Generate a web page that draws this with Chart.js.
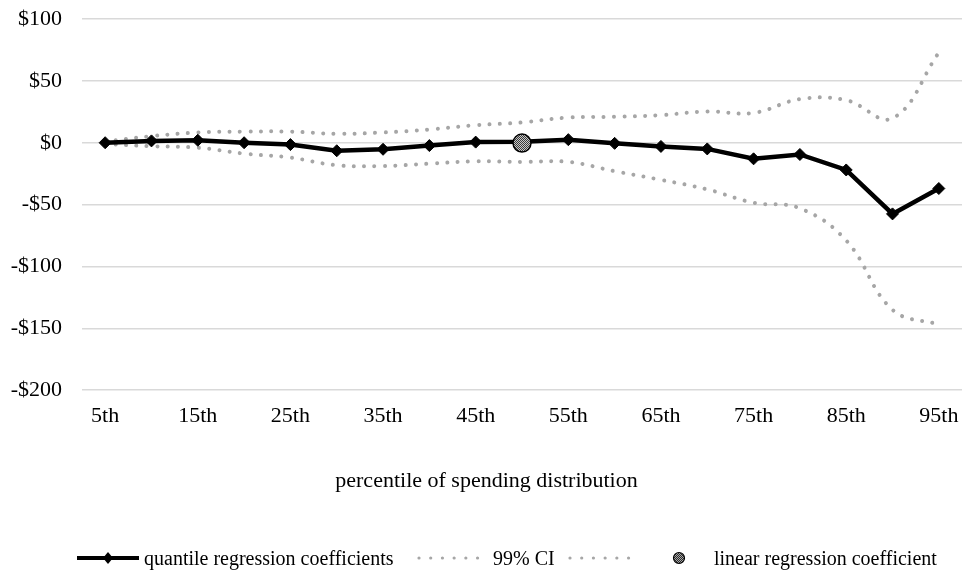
<!DOCTYPE html>
<html>
<head>
<meta charset="utf-8">
<script src="https://cdn.jsdelivr.net/npm/chart.js@4.4.1/dist/chart.umd.min.js"></script>
<style>
  body { margin: 0; background: #fff; overflow: hidden; }
  #wrap { position: relative; width: 968px; height: 572px; }
  #chart { display: block; }
  #legend { position: absolute; left: 0; top: 546px; width: 968px; height: 24px;
            font-family: "Liberation Serif", "Times New Roman", serif; font-size: 20px; color: #000; }
  #legend .item { position: absolute; top: 0; height: 24px; line-height: 24px; white-space: nowrap; }
  #legend svg { position: absolute; top: 0; }
</style>
</head>
<body>
<div id="wrap">
  <canvas id="chart"></canvas>
  <div id="legend">
    <svg style="left:77px" width="62" height="24">
      <line x1="0" y1="12" x2="62" y2="12" stroke="#000" stroke-width="4"/>
      <polygon points="31,6 36,12 31,18 26,12" fill="#000"/>
    </svg>
    <span class="item" style="left:144px">quantile regression coefficients</span>
    <svg style="left:416px" width="64" height="24">
      <line x1="3" y1="12" x2="62" y2="12" stroke="#a6a6a6" stroke-width="3.2" stroke-linecap="round" stroke-dasharray="0.01 11.7"/>
    </svg>
    <span class="item" style="left:493px">99% CI</span>
    <svg style="left:567px" width="64" height="24">
      <line x1="3" y1="12" x2="62" y2="12" stroke="#a6a6a6" stroke-width="3.2" stroke-linecap="round" stroke-dasharray="0.01 11.7"/>
    </svg>
    <svg style="left:671px" width="16" height="24">
      <defs>
        <pattern id="chk" width="2" height="2" patternUnits="userSpaceOnUse">
          <rect width="2" height="2" fill="#a8a8a8"/>
          <rect width="1" height="1" fill="#2a2a2a"/>
          <rect x="1" y="1" width="1" height="1" fill="#2a2a2a"/>
        </pattern>
      </defs>
      <circle cx="8" cy="12" r="5.5" fill="url(#chk)" stroke="#000" stroke-width="1.2"/>
    </svg>
    <span class="item" style="left:714px">linear regression coefficient</span>
  </div>
</div>
<script>
const percentiles = ["5th", "10th", "15th", "20th", "25th", "30th", "35th", "40th", "45th", "50th",
                     "55th", "60th", "65th", "70th", "75th", "80th", "85th", "90th", "95th"];
const quantileCoef = [0, 1.5, 2, 0, -1.5, -6.5, -5.3, -2.3, 0.5, 0.8,
                      2.5, -0.5, -3, -5, -13, -9.5, -22, -57.5, -37];
const ciUpper = [1, 5.3, 8.3, 9, 9, 7.2, 8.3, 10.7, 14.2, 16.4,
                 20.4, 21, 22.3, 25.3, 24.1, 35.2, 34.4, 19.8, 72.8];
const ciLower = [-1, -2.8, -4, -8.8, -12, -18.2, -18.8, -16.9, -15, -15.5,
                 -15.5, -23, -30, -37.7, -48.5, -53, -79, -135, -147];
const linearCoef = [null, null, null, null, null, null, null, null, null, -0.3,
                    null, null, null, null, null, null, null, null, null];
const yTicks = [100, 50, 0, -50, -100, -150, -200];

const serif = "'Liberation Serif', 'Times New Roman', serif";

// checkered fill for the linear regression marker
const tile = document.createElement("canvas");
tile.width = 2; tile.height = 2;
const tctx = tile.getContext("2d");
tctx.fillStyle = "#c8c8c8"; tctx.fillRect(0, 0, 2, 2);
tctx.fillStyle = "#3a3a3a"; tctx.fillRect(0, 0, 1, 1); tctx.fillRect(1, 1, 1, 1);
const checker = tctx.createPattern(tile, "repeat");

const dotted = {
  borderColor: "#a6a6a6",
  borderWidth: 4,
  borderDash: [0.01, 10.4],
  borderCapStyle: "round",
  pointRadius: 0,
  pointHoverRadius: 0,
  tension: 0.4,
  fill: false,
  order: 2
};

// let the labels hang over the plot edges instead of shrinking it
const noEdgePadding = scale => {
  scale.paddingTop = 0;
  scale.paddingBottom = 0;
  scale.paddingLeft = 0;
  scale.paddingRight = 0;
};

new Chart(document.getElementById("chart"), {
  type: "line",
  data: {
    labels: percentiles,
    datasets: [
      {
        label: "quantile regression coefficients",
        data: quantileCoef,
        borderColor: "#000",
        backgroundColor: "#000",
        borderWidth: 4.5,
        pointStyle: "rectRot",
        pointRadius: 6,
        pointBorderWidth: 1,
        tension: 0,
        order: 1
      },
      Object.assign({ label: "99% CI", data: ciUpper }, dotted),
      Object.assign({ label: " ", data: ciLower }, dotted),
      {
        label: "linear regression coefficient",
        data: linearCoef,
        showLine: false,
        pointStyle: "circle",
        pointRadius: 9,
        pointBackgroundColor: checker,
        pointBorderColor: "#000",
        pointBorderWidth: 1.5,
        order: 0
      }
    ]
  },
  options: {
    responsive: true,
    maintainAspectRatio: false,
    animation: false,
    layout: { autoPadding: false, padding: { top: 19, left: 11, right: 6, bottom: 78 } },
    plugins: {
      legend: { display: false },
      tooltip: { enabled: false },
      title: {
        display: true,
        position: "bottom",
        text: "percentile of spending distribution",
        color: "#000",
        font: { family: serif, size: 22, weight: "normal" },
        padding: { top: 33, bottom: 0 }
      }
    },
    scales: {
      x: {
        offset: true,
        afterFit: noEdgePadding,
        grid: { display: false },
        border: { display: false },
        ticks: {
          autoSkip: false,
          maxRotation: 0,
          padding: 5,
          color: "#000",
          font: { family: serif, size: 22 },
          callback: (v, i) => (i % 2 === 0 ? percentiles[i] : "")
        }
      },
      y: {
        min: Math.min(...yTicks),
        max: Math.max(...yTicks),
        afterFit: scale => { noEdgePadding(scale); scale.width = 71; },
        grid: { color: "#d9d9d9", lineWidth: 1.5, drawTicks: false },
        border: { display: false },
        ticks: {
          stepSize: 50,
          padding: 20,
          color: "#000",
          font: { family: serif, size: 22 },
          callback: v => (v < 0 ? "-$" + Math.abs(v) : "$" + v)
        }
      }
    }
  }
});
</script>
</body>
</html>
